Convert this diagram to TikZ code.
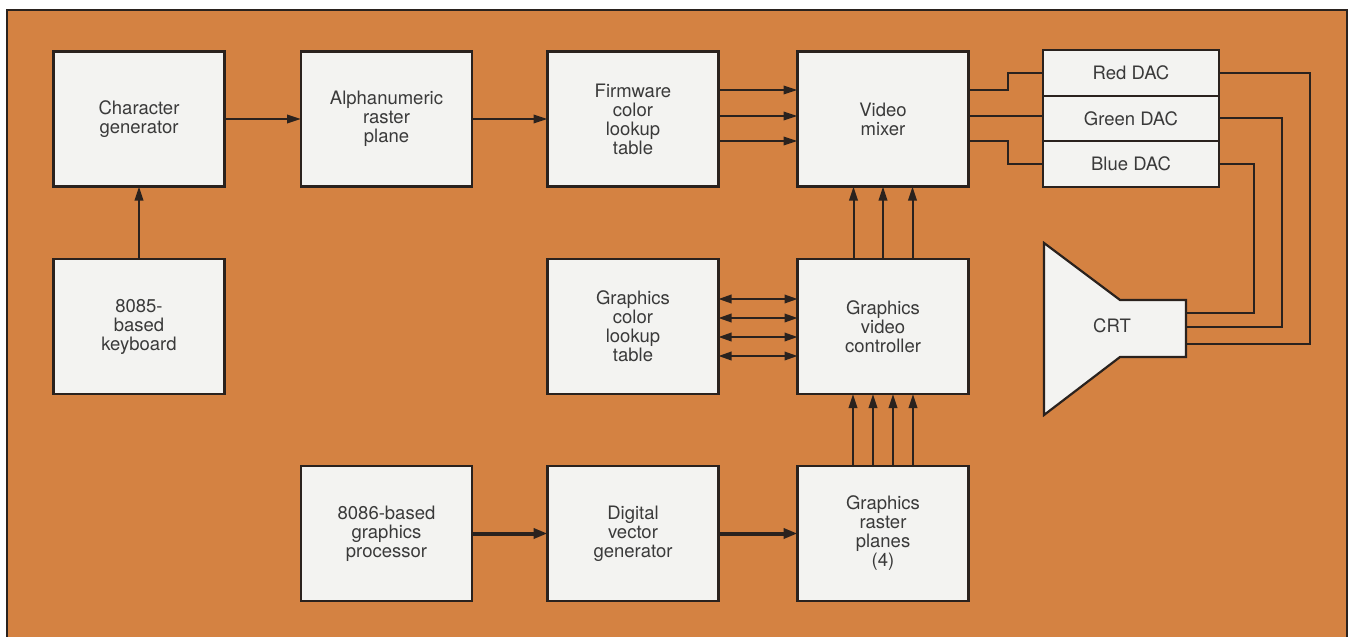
\documentclass[tikz,border=0pt]{standalone}
\usepackage{fontspec}
\setmainfont{TeX Gyre Heros}
\definecolor{board}{RGB}{212,130,66}
\definecolor{boxfill}{RGB}{243,243,241}
\definecolor{ink}{RGB}{42,34,30}
\definecolor{txt}{RGB}{58,58,58}
\usetikzlibrary{arrows.meta,positioning}

\begin{document}
\begin{tikzpicture}[x=1pt,y=-1pt,
  blk/.style={draw=ink, line width=2.2pt, fill=boxfill, minimum width=171pt,
    minimum height=135pt, align=center, inner sep=0pt, outer sep=0pt,
    text=txt, font=\fontsize{18.5}{19}\selectfont},
  dac/.style={blk, minimum width=176pt, minimum height=45.67pt},
  wire/.style={draw=ink, line width=2pt},
  arr/.style={wire, -{Triangle[length=14pt,width=8.5pt]}},
  barr/.style={wire, line width=4pt, -{Triangle[length=14pt,width=10pt]}},
  darr/.style={wire, {Triangle[length=13pt,width=8.5pt]}-{Triangle[length=13pt,width=8.5pt]}}]
  \useasboundingbox (0,0) rectangle (1353,637);
  %% Board
  \fill[white] (0,0) rectangle (1353,637);
  \fill[board] (7,10) rectangle (1347,637);
  \draw[ink, line width=2pt] (7,640) -- (7,10) -- (1347,10) -- (1347,640);
  %% Top row
  \node[blk] (chr) at (139,119) {Character\\generator};
  \node[blk] (alnum) at (386.5,119) {Alphanumeric\\raster\\plane};
  \node[blk] (fwlut) at (633,119) {Firmware\\color\\lookup\\table};
  \node[blk] (mixer) at (883,119) {Video\\mixer};
  \node[dac] (red) at (1131,72.8) {Red DAC};
  \node[dac, below=0pt of red] (green) {Green DAC};
  \node[dac, below=0pt of green] (blue) {Blue DAC};
  %% Middle row
  \node[blk] (kbd) at (139,326.5) {8085-\\based\\keyboard};
  \node[blk] (gclut) at (633,326.5) {Graphics\\color\\lookup\\table};
  \node[blk] (gvc) at (883,326.5) {Graphics\\video\\controller};
  %% CRT tube
  \filldraw[fill=boxfill, draw=ink, line width=2.2pt, line join=miter]
    (1044,243) -- (1120,300) -- (1186,300) -- (1186,357) -- (1120,357) -- (1044,415) -- cycle;
  \node[text=txt, font=\fontsize{18.5}{19}\selectfont] (crt) at (1112,326) {CRT};
  \coordinate (neck) at (1186,328.5);
  %% Bottom row
  \node[blk] (proc) at (386.5,533.5) {8086-based\\graphics\\processor};
  \node[blk] (dvg) at (633,533.5) {Digital\\vector\\generator};
  \node[blk] (gras) at (883,533.5) {Graphics\\raster\\planes\\(4)};
  %% Alphanumeric path
  \draw[arr] (kbd) -- (chr);
  \draw[arr] (chr) -- (alnum);
  \draw[arr] (alnum) -- (fwlut);
  \foreach \dy in {29,3,-22}
    \draw[arr] ([yshift=\dy pt]fwlut.east) -- ([yshift=\dy pt]fwlut.east -| mixer.west);
  %% Mixer to DACs
  \draw[wire] ([yshift=29pt]mixer.east) -- ++(39,0) |- (red.west);
  \draw[wire] ([yshift=3pt]mixer.east) -- ([yshift=3pt]mixer.east -| green.west);
  \draw[wire] ([yshift=-22pt]mixer.east) -- ++(39,0) |- (blue.west);
  %% DACs to CRT
  \draw[wire] (red.east) -- ++(91,0) |- ([yshift=-15.5pt]neck);
  \draw[wire] (green.east) -- ++(63,0) |- ([yshift=1.5pt]neck);
  \draw[wire] (blue.east) -- ++(35,0) |- ([yshift=15.5pt]neck);
  %% Graphics path
  \draw[barr] (proc) -- (dvg);
  \draw[barr] (dvg) -- (gras);
  \foreach \dx in {-30,-10,10,30}
    \draw[arr] ([xshift=\dx pt]gras.north) -- ([xshift=\dx pt]gras.north |- gvc.south);
  \foreach \dy in {27.5,8.5,-10.5,-29.5}
    \draw[darr] ([yshift=\dy pt]gclut.east) -- ([yshift=\dy pt]gclut.east -| gvc.west);
  \foreach \dx in {-29.5,0,29.5}
    \draw[arr] ([xshift=\dx pt]gvc.north) -- ([xshift=\dx pt]gvc.north |- mixer.south);
\end{tikzpicture}
\end{document}
